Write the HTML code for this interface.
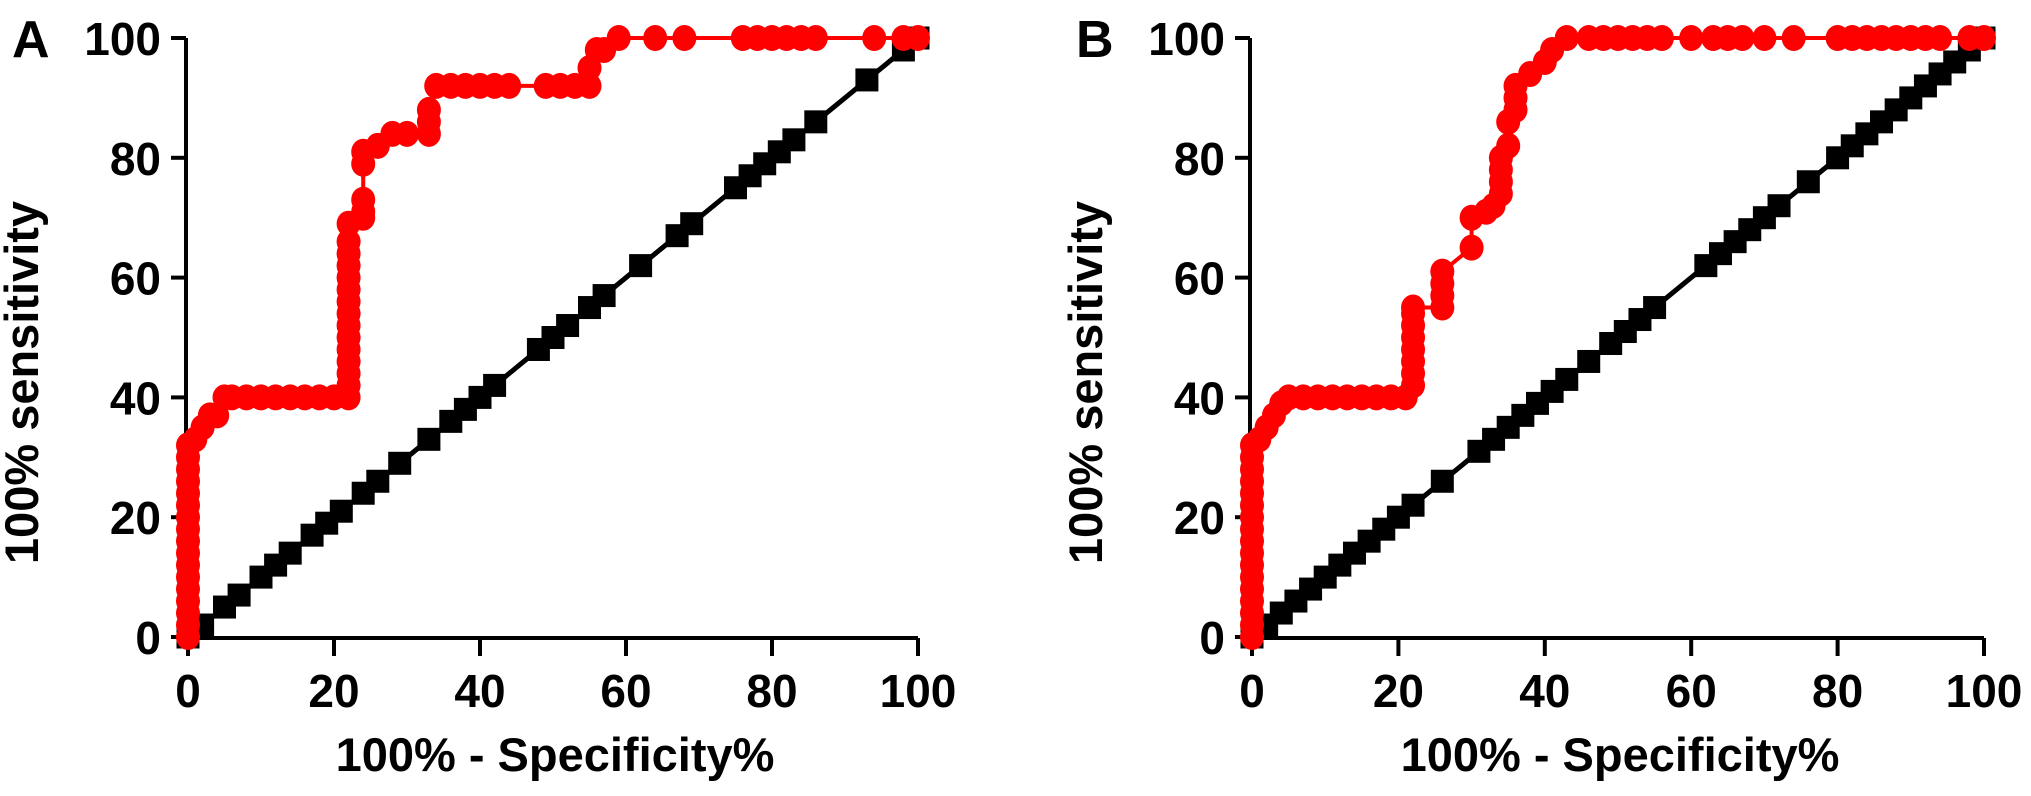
<!DOCTYPE html>
<html><head><meta charset="utf-8"><style>
html,body{margin:0;padding:0;background:#fff;}
svg{display:block;font-family:"Liberation Sans",Arial,sans-serif;font-weight:bold;}
</style></head><body>
<svg id="fig" width="2031" height="796" viewBox="0 0 2031 796"></svg>
<script>
const xTicks=[0,20,40,60,80,100];
const yTicks=[0,20,40,60,80,100];
const aRedX=[0,0,0,0,0,0,0,0,0,0,0,0,0,0,0,0,0,1,2,3,4,5,6,8,10,12,14,16,18,20,22,22,22,22,22,22,22,22,22,22,22,22,22,22,22,24,24,24,24,24,26,28,30,33,33,33,34,36,38,40,42,44,49,51,53,55,55,56,57,59,64,68,76,78,80,82,84,86,94,98,100];
const aRedY=[0,2,4,6,8,10,12,14,16,18,20,22,24,26,28,30,32,33,35,37,37,40,40,40,40,40,40,40,40,40,40,42,44,46,48,50,52,54,56,58,60,62,64,66,69,70,71,73,79,81,82,84,84,84,86,88,92,92,92,92,92,92,92,92,92,92,95,98,98,100,100,100,100,100,100,100,100,100,100,100,100,100];
const aBlackX=[0,2,5,7,10,12,14,17,19,21,24,26,29,33,36,38,40,42,48,50,52,55,57,62,67,69,75,77,79,81,83,86,93,98,100];
const aBlackY=[0,2,5,7,10,12,14,17,19,21,24,26,29,33,36,38,40,42,48,50,52,55,57,62,67,69,75,77,79,81,83,86,93,98,100];
const bRedX=[0,0,0,0,0,0,0,0,0,0,0,0,0,0,0,0,0,1,2,3,4,5,7,9,11,13,15,17,19,21,22,22,22,22,22,22,22,22,26,26,26,26,30,30,32,33,34,34,34,34,35,35,36,36,36,38,40,41,43,46,48,50,52,54,56,60,63,65,67,70,74,80,82,84,86,88,90,92,94,98,100];
const bRedY=[0,2,4,6,8,10,12,14,16,18,20,22,24,26,28,30,32,33,35,37,39,40,40,40,40,40,40,40,40,40,42,44,46,48,50,52,54,55,55,57,59,61,65,70,71,72,74,76,78,80,82,86,88,90,92,94,96,98,100,100,100,100,100,100,100,100,100,100,100,100,100,100,100,100,100,100,100,100,100,100,100];
const bBlackX=[0,2,4,6,8,10,12,14,16,18,20,22,26,31,33,35,37,39,41,43,46,49,51,53,55,62,64,66,68,70,72,76,80,82,84,86,88,90,92,94,96,98,100];
const bBlackY=[0,2,4,6,8,10,12,14,16,18,20,22,26,31,33,35,37,39,41,43,46,49,51,53,55,62,64,66,68,70,72,76,80,82,84,86,88,90,92,94,96,98,100];

const NS="http://www.w3.org/2000/svg";
const svg=document.getElementById('fig');
function mk(tag,attrs,parent){const e=document.createElementNS(NS,tag);for(const k in attrs)e.setAttribute(k,attrs[k]);(parent||svg).appendChild(e);return e;}

function panel(letter,x0,x100,y0,y100,redX,redY,blkX,blkY){
  const sx=v=>x0+(x100-x0)*v/100;
  const sy=v=>y0+(y100-y0)*v/100;
  const g=mk('g',{});
  
  
  const ax=x0-2, ay=y0+1;
  const yl=mk('line',{x1:ax,y1:sy(100),x2:ax,y2:ay,stroke:'#000','stroke-width':4},g);
  
  const xl=mk('line',{x1:ax,y1:ay,x2:sx(100),y2:ay,stroke:'#000','stroke-width':4},g);
  
  yTicks.forEach(t=>{
    mk('line',{x1:ax-15,y1:sy(t),x2:ax,y2:sy(t),stroke:'#000','stroke-width':4},g);
    const tx=mk('text',{x:ax-25,y:sy(t)+17,'text-anchor':'end','font-size':46},g);
    tx.textContent=t;
    
  });
  xTicks.forEach(t=>{
    mk('line',{x1:sx(t),y1:ay,x2:sx(t),y2:ay+18,stroke:'#000','stroke-width':4},g);
    const tx=mk('text',{x:sx(t),y:707,'text-anchor':'middle','font-size':46},g);
    tx.textContent=t;
    
  });
  const xt=mk('text',{x:(sx(0)+sx(100))/2+2,y:771,'text-anchor':'middle','font-size':47},g);
  xt.textContent='100% - Specificity%';
  
  const cy=(sy(0)+sy(100))/2+45, cx=x0-150;
  const yt=mk('text',{x:cx,y:cy,'text-anchor':'middle','font-size':47,transform:`rotate(-90 ${cx} ${cy})`},g);
  yt.textContent='100% sensitivity';
  
  const lt=mk('text',{x:x0-176,y:57,'font-size':52},g);
  lt.textContent=letter;
  
  const bp=mk('polyline',{points:blkX.map((v,i)=>sx(v)+','+sy(blkY[i])).join(' '),fill:'none',stroke:'#000','stroke-width':5},g);
  
  blkX.forEach((v,i)=>{
    const r=mk('rect',{x:sx(v)-11.5,y:sy(blkY[i])-11.5,width:23,height:23,fill:'#000'},g);
    
  });
  const rp=mk('polyline',{points:redX.map((v,i)=>sx(v)+','+sy(redY[i])).join(' '),fill:'none',stroke:'#ff0000','stroke-width':4},g);
  
  redX.forEach((v,i)=>{
    const c=mk('ellipse',{cx:sx(v),cy:sy(redY[i]),rx:12,ry:13,fill:'#ff0000'},g);
    
  });
}
panel('A',188,918,637,38,aRedX,aRedY,aBlackX,aBlackY);
panel('B',1252,1984,637,38,bRedX,bRedY,bBlackX,bBlackY);
</script>
</body></html>
